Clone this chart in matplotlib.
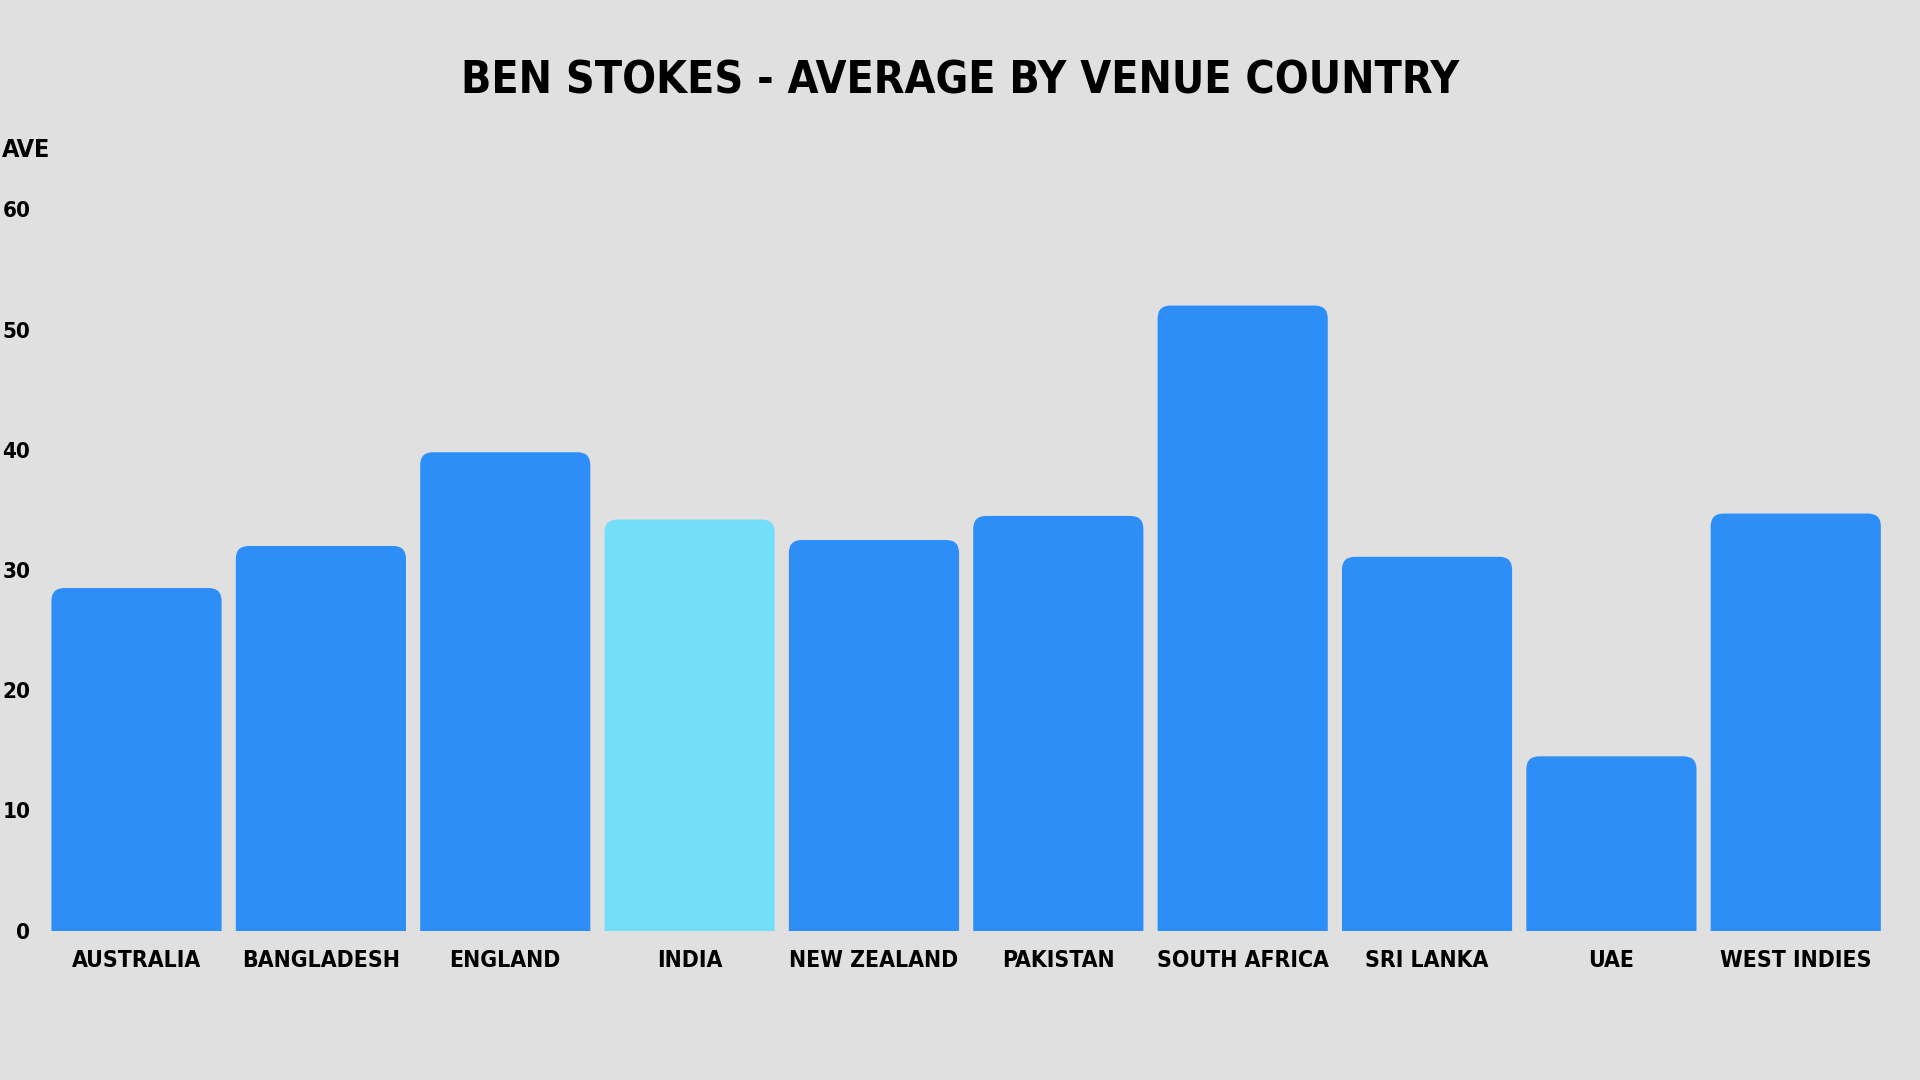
import matplotlib
matplotlib.use('Agg')
import matplotlib.pyplot as plt
from matplotlib.patches import FancyBboxPatch

countries = ['AUSTRALIA', 'BANGLADESH', 'ENGLAND', 'INDIA', 'NEW ZEALAND',
             'PAKISTAN', 'SOUTH AFRICA', 'SRI LANKA', 'UAE', 'WEST INDIES']
averages = [28.5, 32.0, 39.8, 34.2, 32.5, 34.5, 52.0, 31.1, 14.5, 34.7]
highlight = 'INDIA'
yticks = [0, 10, 20, 30, 40, 50, 60]

blue = '#2e8ef7'
light = '#72def7'
bg = '#e0e0e0'

plt.rcParams['font.family'] = ['DejaVu Sans']
plt.rcParams['font.stretch'] = 'condensed'

fig = plt.figure(figsize=(19.2, 10.8), dpi=100)
fig.patch.set_facecolor(bg)

ax = fig.add_axes([0.0231, 0.1383, 0.9602, 0.6678])
ax.set_facecolor('none')

colors = [light if c == highlight else blue for c in countries]
bars = ax.bar(range(len(countries)), averages, width=0.923, color=colors)

ax.set_xlim(-0.5, len(countries) - 0.5)
ax.set_ylim(0, 60)

# swap plain rectangles for ones with rounded top corners
rx = 0.07    # radius in x data units (~13 px)
ry = 1.07    # radius in y data units (~13 px)
for b in bars:
    x, w, h = b.get_x(), b.get_width(), b.get_height()
    fc = b.get_facecolor()
    b.remove()
    p = FancyBboxPatch((x, -5), w, h + 5,
                       boxstyle='round,pad=0,rounding_size=%f' % rx,
                       mutation_aspect=ry / rx, fc=fc, ec='none')
    p.set_clip_on(True)
    ax.add_patch(p)

for s in ax.spines.values():
    s.set_visible(False)

ax.set_xticks(range(len(countries)))
ax.set_xticklabels(countries, fontsize=16.5, fontweight='bold')
ax.set_yticks(yticks)
ax.set_yticklabels([str(v) for v in yticks], fontsize=16, fontweight='bold')
ax.tick_params(axis='both', length=0)
ax.tick_params(axis='x', pad=13)
ax.tick_params(axis='y', pad=10)

fig.text(0.5, 1 - 94 / 1080, 'BEN STOKES - AVERAGE BY VENUE COUNTRY',
         ha='center', va='baseline', fontsize=32, fontweight='bold')
fig.text(0.001, 1 - 150 / 1080, 'AVE', ha='left', va='center',
         fontsize=18, fontweight='bold')

plt.savefig('out.png', dpi=100, facecolor=bg)
